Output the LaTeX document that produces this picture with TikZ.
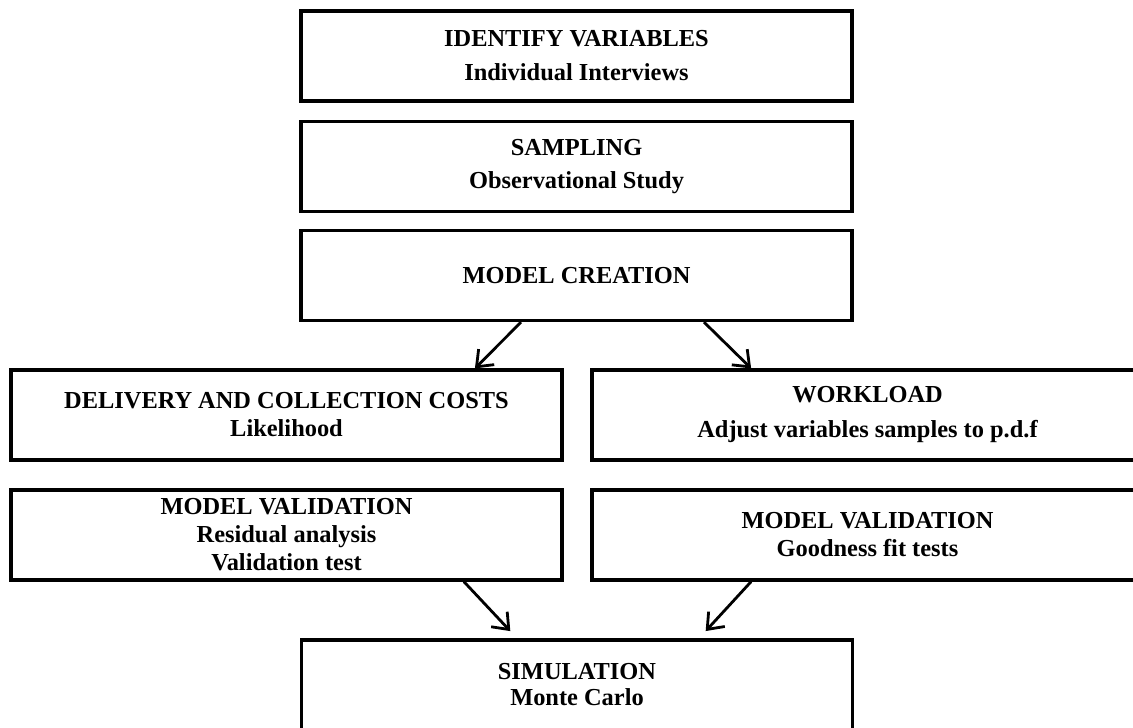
\documentclass[tikz,border=0pt]{standalone}
\usepackage{fontspec}
\setmainfont{Liberation Serif}
\usetikzlibrary{arrows.meta,calc}

\begin{document}
\begin{tikzpicture}[x=0.5pt, y=-0.5pt, line join=miter]

	\tikzset{
	  flow_box/.style   = {draw=black, line width=1.6pt, rectangle, inner sep=0pt,
	                       minimum width=275.5pt, minimum height=45pt, align=center,
	                       font=\bfseries\fontsize{12.2}{14}\selectfont},
	  flow_arrow/.style = {line width=1.4pt, -{Straight Barb[length=7pt, width=11pt, line width=1.4pt]}}
	}

	\useasboundingbox (0,0) rectangle (1133,727);

	\node[flow_box] (ident) at (576.5,56)  {IDENTIFY VARIABLES\\[3pt]Individual Interviews};
	\node[flow_box] (samp)  at (576.5,166.5) {SAMPLING\\[2.5pt]Observational Study};
	\node[flow_box] (model) at (576.5,275.5) {MODEL CREATION};

	\node[flow_box] (costs) at (286.5,415) {DELIVERY AND COLLECTION COSTS\\Likelihood};
	\node[flow_box] (work)  at (867.5,415) {WORKLOAD\\[3.5pt]Adjust variables samples to p.d.f};

	\node[flow_box] (valcost) at (286.5,535) {MODEL VALIDATION\\Residual analysis\\Validation test};
	\node[flow_box] (valwork) at (867.5,535) {MODEL VALIDATION\\Goodness fit tests};

	\node[flow_box] (simul) at (577,685) {SIMULATION\\[-1pt]Monte Carlo};

	\draw[flow_arrow] ($(model.south west)!0.40!(model.south east)$) -- ($(costs.north west)!0.84!(costs.north east)$);
	\draw[flow_arrow] ($(model.south west)!0.73!(model.south east)$) -- ($(work.north west)!0.29!(work.north east)$);
	\draw[flow_arrow, shorten >=5pt] ($(valcost.south west)!0.82!(valcost.south east)$) -- ($(simul.north west)!0.392!(simul.north east)$);
	\draw[flow_arrow, shorten >=5pt] ($(valwork.south west)!0.29!(valwork.south east)$) -- ($(simul.north west)!0.72!(simul.north east)$);

\end{tikzpicture}
\end{document}
